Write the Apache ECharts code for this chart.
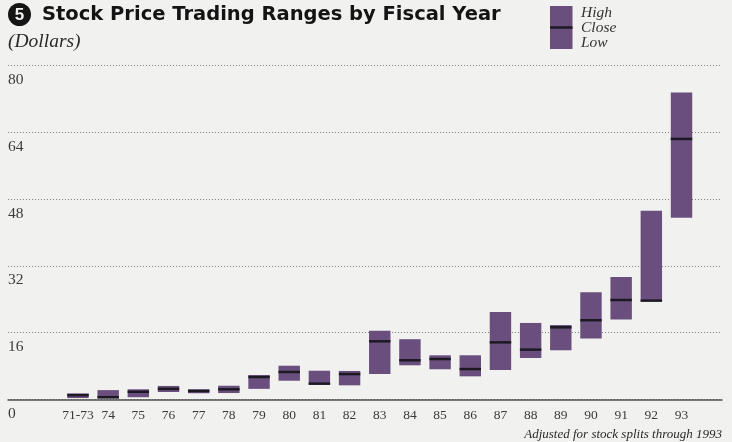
<!DOCTYPE html>
<html>
<head>
<meta charset="utf-8">
<script src="https://cdn.jsdelivr.net/npm/echarts@6/dist/echarts.min.js"></script>
<style>
  html, body { margin: 0; padding: 0; background: #f1f1ef; }
  #chart { width: 732px; height: 442px; }
</style>
</head>
<body>
<div id="chart"></div>
<script>
// Fiscal years and stock price ranges (dollars, adjusted for splits)
const years  = ['71-73','74','75','76','77','78','79','80','81','82','83','84','85','86','87','88','89','90','91','92','93'];
const highs  = [1.4, 2.2, 2.4, 3.2, 2.4, 3.25, 5.8, 8.05, 6.85, 6.8, 16.4, 14.4, 10.55, 10.55, 20.9, 18.3, 17.8, 25.65, 29.3, 45.2, 73.5];
const lows   = [0.3, 0.2, 0.5, 1.75, 1.45, 1.5, 2.5, 4.45, 3.5, 3.35, 6.05, 8.15, 7.2, 5.5, 7.0, 9.9, 11.75, 14.6, 19.1, 23.5, 43.5];
const closes = [1.0, 0.5, 1.8, 2.5, 2.0, 2.4, 5.35, 6.55, 3.75, 6.05, 13.9, 9.35, 9.65, 7.25, 13.65, 11.9, 17.25, 18.95, 23.8, 23.65, 62.4];
const yTicks = { min: 0, max: 80, step: 16 };

const PURPLE = '#6a4f7e';
const CLOSE_INK = '#1d1922';
const SERIF = '"Liberation Serif", "Times New Roman", serif';

const chart = echarts.init(document.getElementById('chart'), null, { renderer: 'canvas' });

const rangeData = years.map((y, i) => [i, lows[i], highs[i], closes[i]]);

chart.setOption({
  backgroundColor: '#f1f1ef',
  animation: false,
  grid: [
    // full-width frame: dotted guides and baseline
    { left: 8, right: 10, top: 65.5, bottom: 42.7 },
    // category band for the yearly ranges
    { left: 62.9, right: 35.4, top: 65.5, bottom: 42.7 }
  ],
  xAxis: [
    {
      gridIndex: 0, type: 'value', min: 0, max: 1,
      axisLine: { show: true, lineStyle: { color: '#505050', width: 1.5 } },
      axisTick: { show: false }, axisLabel: { show: false }, splitLine: { show: false }
    },
    {
      gridIndex: 1, type: 'category', data: years, boundaryGap: true,
      axisLine: { show: false }, axisTick: { show: false },
      axisLabel: { margin: 9, fontFamily: SERIF, fontSize: 13.5, color: '#3a3a3a', interval: 0 }
    }
  ],
  yAxis: [
    {
      gridIndex: 0, type: 'value', min: yTicks.min, max: yTicks.max, interval: yTicks.step,
      axisLine: { show: false }, axisTick: { show: false },
      axisLabel: {
        inside: true, margin: 0, align: 'left', verticalAlign: 'top',
        padding: [6.5, 0, 0, 0],
        fontFamily: SERIF, fontSize: 15.5, color: '#3a3a3a'
      },
      splitLine: { show: true, lineStyle: { color: '#808080', type: [1, 2], width: 1 } }
    },
    {
      gridIndex: 1, type: 'value', min: yTicks.min, max: yTicks.max, show: false
    }
  ],
  series: [
    {
      type: 'custom',
      xAxisIndex: 1, yAxisIndex: 1,
      data: rangeData,
      encode: { x: 0, y: [1, 2, 3] },
      renderItem: function (params, api) {
        const idx = api.value(0);
        const pHi = api.coord([idx, api.value(2)]);
        const pLo = api.coord([idx, api.value(1)]);
        const pCl = api.coord([idx, api.value(3)]);
        const w = api.size([1, 0])[0] * 0.71;
        return {
          type: 'group',
          children: [
            {
              type: 'rect',
              shape: { x: pHi[0] - w / 2, y: pHi[1], width: w, height: pLo[1] - pHi[1] },
              style: { fill: PURPLE }
            },
            {
              type: 'line',
              shape: { x1: pCl[0] - w / 2, y1: pCl[1], x2: pCl[0] + w / 2, y2: pCl[1] },
              style: { stroke: CLOSE_INK, lineWidth: 2.5 }
            }
          ]
        };
      }
    }
  ],
  graphic: [
    // numbered badge and heading
    { type: 'circle', shape: { cx: 19.5, cy: 14.5, r: 11.5 }, style: { fill: '#151515' } },
    { type: 'text', x: 19.5, y: 15, style: { text: '5', fill: '#f1f1ef', font: 'bold 17px "Liberation Sans", Arial, sans-serif', align: 'center', verticalAlign: 'middle' } },
    { type: 'text', x: 42, y: 14.5, style: { text: 'Stock Price Trading Ranges by Fiscal Year', fill: '#141414', font: 'bold 19.5px "DejaVu Sans", sans-serif', verticalAlign: 'middle' } },
    { type: 'text', x: 8, y: 42, style: { text: '(Dollars)', fill: '#2a2a2a', font: 'italic 19.5px ' + SERIF, verticalAlign: 'middle' } },
    // key
    { type: 'rect', shape: { x: 550, y: 6, width: 22.5, height: 43 }, style: { fill: PURPLE } },
    { type: 'line', shape: { x1: 550, y1: 27.5, x2: 572.5, y2: 27.5 }, style: { stroke: CLOSE_INK, lineWidth: 2.5 } },
    { type: 'text', x: 581, y: 12.5, style: { text: 'High', fill: '#333', font: 'italic 15.5px ' + SERIF, verticalAlign: 'middle' } },
    { type: 'text', x: 581, y: 28, style: { text: 'Close', fill: '#333', font: 'italic 15.5px ' + SERIF, verticalAlign: 'middle' } },
    { type: 'text', x: 581, y: 43, style: { text: 'Low', fill: '#333', font: 'italic 15.5px ' + SERIF, verticalAlign: 'middle' } },
    // footnote
    { type: 'text', x: 722, y: 435, style: { text: 'Adjusted for stock splits through 1993', fill: '#2a2a2a', font: 'italic 13px ' + SERIF, align: 'right', verticalAlign: 'middle' } }
  ]
});
</script>
</body>
</html>
